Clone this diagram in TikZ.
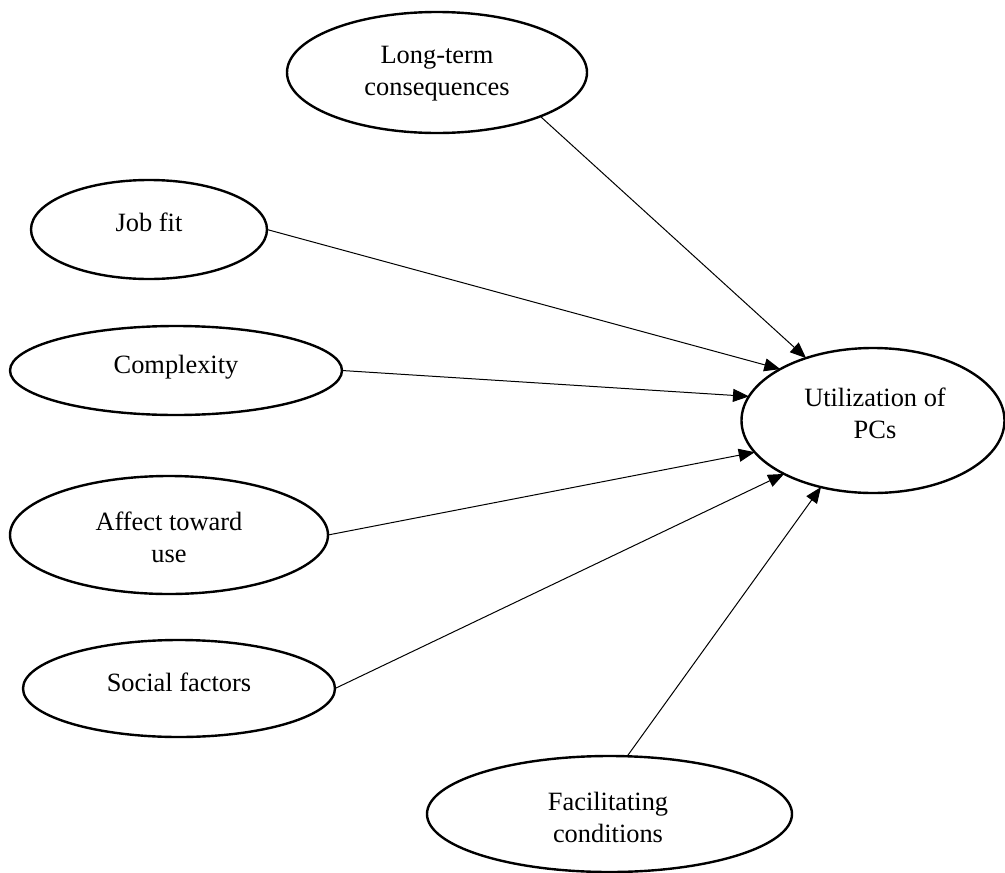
\documentclass[tikz,border=0pt]{standalone}
\usepackage{fontspec}
\setmainfont{Liberation Serif}
\usetikzlibrary{shapes.geometric,arrows.meta}
\begin{document}
\begin{tikzpicture}[x=1pt,y=-1pt,
  oval/.style={draw,ellipse,line width=2.4pt,inner sep=0pt,outer sep=0pt},
  lbl/.style={font=\fontsize{26.4}{32}\selectfont,align=center,inner sep=0pt},
  conn/.style={line width=1pt,-{Triangle[length=16pt,width=13pt]}}]
\useasboundingbox (0,0) rectangle (1005,873);
% ellipses
\node[oval,minimum width=300pt,minimum height=121pt] (lt) at (437,72.5) {};
\node[oval,minimum width=236pt,minimum height=99pt] (jf) at (149,229.5) {};
\node[oval,minimum width=332pt,minimum height=89pt] (cx) at (176,370.5) {};
\node[oval,minimum width=318pt,minimum height=118pt] (af) at (169,535) {};
\node[oval,minimum width=312pt,minimum height=97pt] (sf) at (179,688.5) {};
\node[oval,minimum width=365pt,minimum height=116pt] (fc) at (609.5,814) {};
\node[oval,minimum width=263pt,minimum height=145pt] (ut) at (873,420.5) {};
% labels
\node[lbl] (ltt) at (437,74) {Long-term\\consequences};
\node[lbl] (jft) at (149,222) {Job fit};
\node[lbl] (cxt) at (176,367) {Complexity};
\node[lbl] (aft) at (169,537.5) {Affect toward\\use};
\node[lbl] (sft) at (179,682) {Social factors};
\node[lbl] (fct) at (608,817.5) {Facilitating\\conditions};
\node[lbl] (utt) at (875,413.5) {Utilization of\\PCs};
% connectors
\draw[conn] (lt.337) -- (ut.137);
\draw[conn] (jf.east) -- (ut.151);
\draw[conn] (cx.east) -- (ut.169);
\draw[conn] (af.east) -- (ut.195);
\draw[conn] (sf.east) -- (ut.211);
\draw[conn] (fc.73) -- (ut.232);
\end{tikzpicture}
\end{document}
